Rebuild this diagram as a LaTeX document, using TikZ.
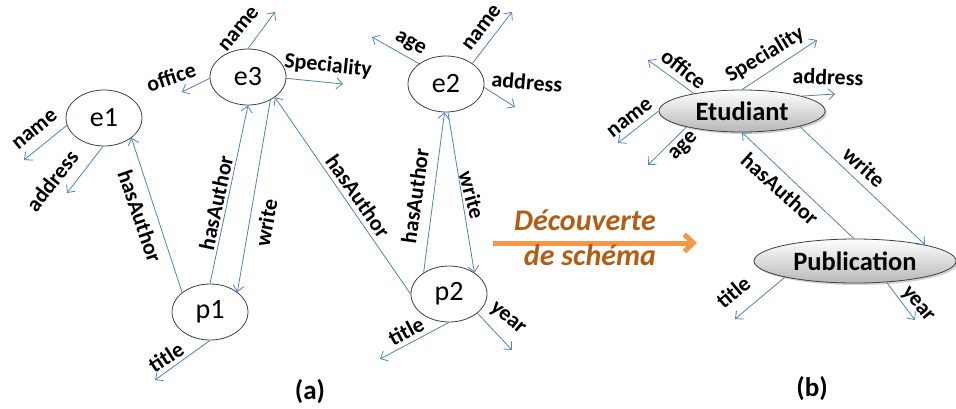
\documentclass[tikz,border=0pt]{standalone}
\usepackage{fontspec}
\setmainfont{Carlito}
\usetikzlibrary{arrows.meta,shapes.geometric,shadows}
\definecolor{linkblue}{RGB}{79,129,189}
\definecolor{nodeborder}{RGB}{64,64,64}
\definecolor{orangearrow}{RGB}{247,150,70}
\definecolor{browntext}{RGB}{180,92,18}
\tikzset{
  link/.style={draw=linkblue, line width=0.8pt, -{Straight Barb[length=6pt,width=11pt,line width=0.8pt]}},
  inst/.style={ellipse, draw=nodeborder, line width=0.8pt, fill=white, inner sep=0pt,
    minimum width=76pt, minimum height=56pt, font=\fontsize{28}{28}\selectfont},
  cls/.style={ellipse, draw=nodeborder, line width=0.8pt, inner sep=0pt,
    top color=white, bottom color=black!28, minimum height=42pt,
    drop shadow={shadow xshift=2pt, shadow yshift=-2pt, fill=black!30, opacity=0.6},
    font=\bfseries\fontsize{26.5}{26.5}\selectfont},
  lab/.style={inner sep=0pt, font=\bfseries\fontsize{22}{22}\selectfont},
  captext/.style={inner sep=0pt, font=\bfseries\fontsize{27}{27}\selectfont},
  bigtext/.style={inner sep=0pt, anchor=base, text=browntext, font=\bfseries\itshape\fontsize{30}{30}\selectfont},
}
\begin{document}
\begin{tikzpicture}[x=1pt,y=-1pt]
\useasboundingbox (0,0) rectangle (956,408);

% ---------- (a) instance graph ----------
\node[inst] (e1) at (104,118) {e1};
\node[inst] (e3) at (248,77) {e3};
\node[inst] (p1) at (210,312) {p1};
\node[inst] (e2) at (446,84) {e2};
\node[inst] (p2) at (449,294) {p2};

\coordinate (e1name) at (24,160);
\coordinate (e1addr) at (67,193);
\coordinate (e3name) at (275,12);
\coordinate (e3office) at (182,92);
\coordinate (e3spec) at (343,84);
\coordinate (p1title) at (155,380);
\coordinate (e2age) at (372,37);
\coordinate (e2name) at (512,12);
\coordinate (e2addr) at (515,107);
\coordinate (p2title) at (380,359);
\coordinate (p2year) at (512,350);

\draw[link] (e1.191) -- (e1name);
\draw[link] (e1.268) -- (e1addr);
\draw[link] (p1.145) -- (e1.324);
\draw[link] (e3.90) -- (e3name);
\draw[link] (e3.182) -- (e3office);
\draw[link] (e3.358) -- (e3spec);
\draw[link] (p1.90) -- (e3.270);
\draw[link] (e3.314) -- (p1.36);
\draw[link] (p1.270) -- (p1title);
\draw[link] (p2.180) -- (e3.323);
\draw[link] (e2.143) -- (e2age);
\draw[link] (e2.38) -- (e2name);
\draw[link] (e2.355) -- (e2addr);
\draw[link] (p2.140) -- (e2.267);
\draw[link] (e2.274) -- (p2.40);
\draw[link] (p2.270) -- (p2title);
\draw[link] (p2.326) -- (p2year);

\node[lab, rotate=39] (l1) at (35,130) {name};
\node[lab, rotate=52] (l2) at (52,181) {address};
\node[lab, rotate=-71] (l3) at (140,216) {hasAuthor};
\node[lab, rotate=50] (l4) at (239,29) {name};
\node[lab, rotate=18] (l5) at (171,77) {office};
\node[lab, rotate=-6] (l6) at (328,66) {Speciality};
\node[lab, rotate=78] (l7) at (216,203) {hasAuthor};
\node[lab, rotate=80] (l8) at (266,223) {write};
\node[lab, rotate=33] (l9) at (166,357) {title};
\node[lab, rotate=-55] (l10) at (358,196) {hasAuthor};
\node[lab, rotate=-29] (l11) at (410,44) {age};
\node[lab, rotate=53] (l12) at (482,28) {name};
\node[lab, rotate=-5] (l13) at (527,82) {address};
\node[lab, rotate=82] (l14) at (415,196) {hasAuthor};
\node[lab, rotate=-75] (l15) at (472,195) {write};
\node[lab, rotate=28] (l16) at (406,331) {title};
\node[lab, rotate=-40] (l17) at (507,319) {year};

\node[captext] (capa) at (310,392) {(a)};

% ---------- arrow ----------
\coordinate (arrS) at (493,243);
\coordinate (arrE) at (697,243);
\draw[draw=orangearrow, line width=5pt, -{Straight Barb[length=9pt,width=17pt]}] (arrS) -- (arrE);
\node[bigtext] (t1) at (585,230) {Découverte};
\node[bigtext] (t2) at (590,265) {de schéma};

% ---------- (b) schema ----------
\node[cls, minimum width=166pt, minimum height=42pt] (etu) at (742,111) {Etudiant};
\node[cls, minimum width=202pt, minimum height=44pt] (pub) at (855,261) {Publication};

\coordinate (eoffice) at (648,60);
\coordinate (espec) at (817,40);
\coordinate (eaddr) at (835,94);
\coordinate (ename) at (618,143);
\coordinate (eage) at (648,165);
\coordinate (ptitle) at (735,319);
\coordinate (pyear) at (915,320);

\draw[link] (etu.160) -- (eoffice);
\draw[link] (etu.90) -- (espec);
\draw[link] (etu.14) -- (eaddr);
\draw[link] (etu.180) -- (ename);
\draw[link] (etu.196) -- (eage);
\draw[link] (pub.93) -- (etu.270);
\draw[link] (etu.345) -- (pub.13);
\draw[link] (pub.193) -- (ptitle);
\draw[link] (pub.326) -- (pyear);

\node[lab, rotate=-38] (m1) at (684,69) {office};
\node[lab, rotate=31] (m2) at (765,55) {Speciality};
\node[lab, rotate=-2] (m3) at (828,77) {address};
\node[lab, rotate=38] (m4) at (630,118) {name};
\node[lab, rotate=45] (m5) at (684,147) {age};
\node[lab, rotate=-42] (m6) at (780,189) {hasAuthor};
\node[lab, rotate=-42] (m7) at (864,167) {write};
\node[lab, rotate=40] (m8) at (733,292) {title};
\node[lab, rotate=-50] (m9) at (917,305) {year};

\node[captext] (capb) at (812,389) {(b)};
\end{tikzpicture}
\end{document}
